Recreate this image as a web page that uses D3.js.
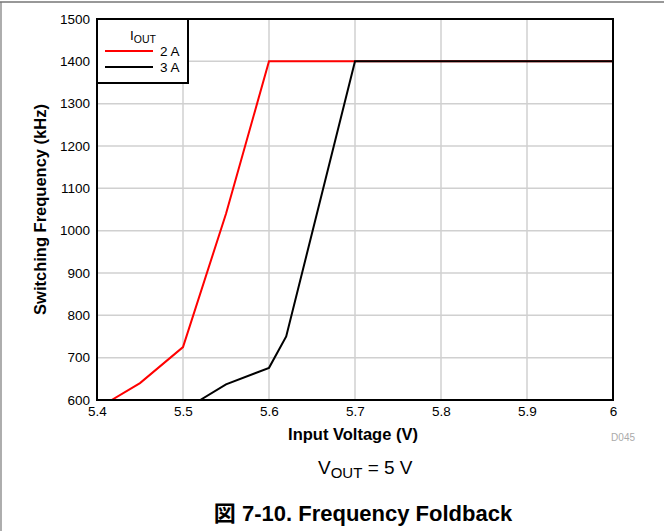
<!DOCTYPE html>
<html><head><meta charset="utf-8">
<script src="https://cdn.jsdelivr.net/npm/d3@7"></script>
<style>body{margin:0;background:#fff}svg{display:block}</style>
</head><body>
<script>
const xTicks = [5.4, 5.5, 5.6, 5.7, 5.8, 5.9, 6];
const xTickLabels = ["5.4", "5.5", "5.6", "5.7", "5.8", "5.9", "6"];
const yTicks = [600, 700, 800, 900, 1000, 1100, 1200, 1300, 1400, 1500];
const vin2A = [5.417, 5.45, 5.5, 5.55, 5.6, 6.0];
const freq2A = [600, 640, 725, 1040, 1400, 1400];
const vin3A = [5.52, 5.55, 5.6, 5.62, 5.7, 6.0];
const freq3A = [600, 637, 676, 750, 1400, 1400];
const seriesNames = ["2 A", "3 A"];
const seriesColors = ["#ff0000", "#000000"];

const W = 664, H = 531;
const m = {l: 97, r: 613, t: 19, b: 400};
const svg = d3.select("body").append("svg").attr("width", W).attr("height", H)
  .style("font-family", "'Liberation Sans', Arial, sans-serif");

// outer frame
svg.append("line").attr("x1", 0).attr("x2", W).attr("y1", 2).attr("y2", 2).attr("stroke", "#333").attr("stroke-width", 1.2);
svg.append("line").attr("x1", 1).attr("x2", 1).attr("y1", 2).attr("y2", H).attr("stroke", "#777").attr("stroke-width", 1.2);

const x = d3.scaleLinear().domain([5.4, 6]).range([m.l, m.r]);
const y = d3.scaleLinear().domain([600, 1500]).range([m.b, m.t]);

// grid
svg.append("g").selectAll("line").data(xTicks.slice(1, -1)).join("line")
  .attr("x1", d => x(d)).attr("x2", d => x(d)).attr("y1", m.t).attr("y2", m.b)
  .attr("stroke", "#d0d0d0").attr("stroke-width", 1.5);
svg.append("g").selectAll("line").data(yTicks.slice(1, -1)).join("line")
  .attr("x1", m.l).attr("x2", m.r).attr("y1", d => y(d)).attr("y2", d => y(d))
  .attr("stroke", "#d0d0d0").attr("stroke-width", 1.5);

// axes tick labels
const xAxis = d3.axisBottom(x).tickValues(xTicks).tickSize(0).tickPadding(6)
  .tickFormat((d, i) => xTickLabels[i]);
const gx = svg.append("g").attr("transform", `translate(0,${m.b})`).call(xAxis);
gx.select(".domain").remove();
gx.selectAll("text").attr("font-size", 13.5).attr("fill", "#000").attr("font-family", "'Liberation Sans', Arial, sans-serif");

const yAxis = d3.axisLeft(y).tickValues(yTicks).tickSize(0).tickPadding(7).tickFormat(d3.format("d"));
const gy = svg.append("g").attr("transform", `translate(${m.l},0)`).call(yAxis);
gy.select(".domain").remove();
gy.selectAll("text").attr("font-size", 13.5).attr("fill", "#000").attr("font-family", "'Liberation Sans', Arial, sans-serif");

// lines
const line = d3.line().x(d => x(d[0])).y(d => y(d[1]));
const data = [d3.zip(vin2A, freq2A), d3.zip(vin3A, freq3A)];
svg.append("clipPath").attr("id", "c").append("rect")
  .attr("x", m.l).attr("y", m.t).attr("width", m.r - m.l).attr("height", m.b - m.t);
svg.append("g").attr("clip-path", "url(#c)").selectAll("path").data(data).join("path")
  .attr("d", line).attr("fill", "none")
  .attr("stroke", (d, i) => seriesColors[i]).attr("stroke-width", 2);

// plot frame
svg.append("rect").attr("x", m.l).attr("y", m.t).attr("width", m.r - m.l).attr("height", m.b - m.t)
  .attr("fill", "none").attr("stroke", "#000").attr("stroke-width", 2);

// legend
const lg = svg.append("g");
lg.append("rect").attr("x", m.l).attr("y", m.t).attr("width", 91).attr("height", 64)
  .attr("fill", "#fff").attr("stroke", "#000").attr("stroke-width", 2);
const t = lg.append("text").attr("x", 130).attr("y", 40).attr("font-size", 13.5);
t.append("tspan").text("I");
t.append("tspan").attr("dy", 3).attr("font-size", 10.5).text("OUT");
seriesNames.forEach((n, i) => {
  const yy = 51 + i * 16;
  lg.append("line").attr("x1", 105).attr("x2", 153).attr("y1", yy).attr("y2", yy)
    .attr("stroke", seriesColors[i]).attr("stroke-width", 2);
  lg.append("text").attr("x", 160).attr("y", yy + 5).attr("font-size", 13.5).text(n);
});

// axis titles
svg.append("text").attr("x", (m.l + m.r) / 2 - 2).attr("y", 440).attr("text-anchor", "middle")
  .attr("font-size", 16.5).attr("font-weight", "bold").text("Input Voltage (V)");
svg.append("text").attr("transform", `translate(46,${(m.t + m.b) / 2}) rotate(-90)`)
  .attr("text-anchor", "middle").attr("font-size", 16.5).attr("font-weight", "bold")
  .text("Switching Frequency (kHz)");
svg.append("text").attr("x", 635).attr("y", 441).attr("text-anchor", "end")
  .attr("font-size", 10).attr("fill", "#aaa").text("D045");

// condition
const v = svg.append("text").attr("x", 318).attr("y", 474).attr("font-size", 19);
v.append("tspan").text("V");
v.append("tspan").attr("dy", 4).attr("font-size", 15).text("OUT");
v.append("tspan").attr("dy", -4).text(" = 5 V");

// caption
svg.append("text").attr("x", 363).attr("y", 521).attr("text-anchor", "middle")
  .attr("font-size", 22).attr("font-weight", "bold")
  .attr("font-family", "'Liberation Sans', 'Noto Sans CJK JP', sans-serif")
  .text("図 7-10. Frequency Foldback");
</script>
</body></html>
